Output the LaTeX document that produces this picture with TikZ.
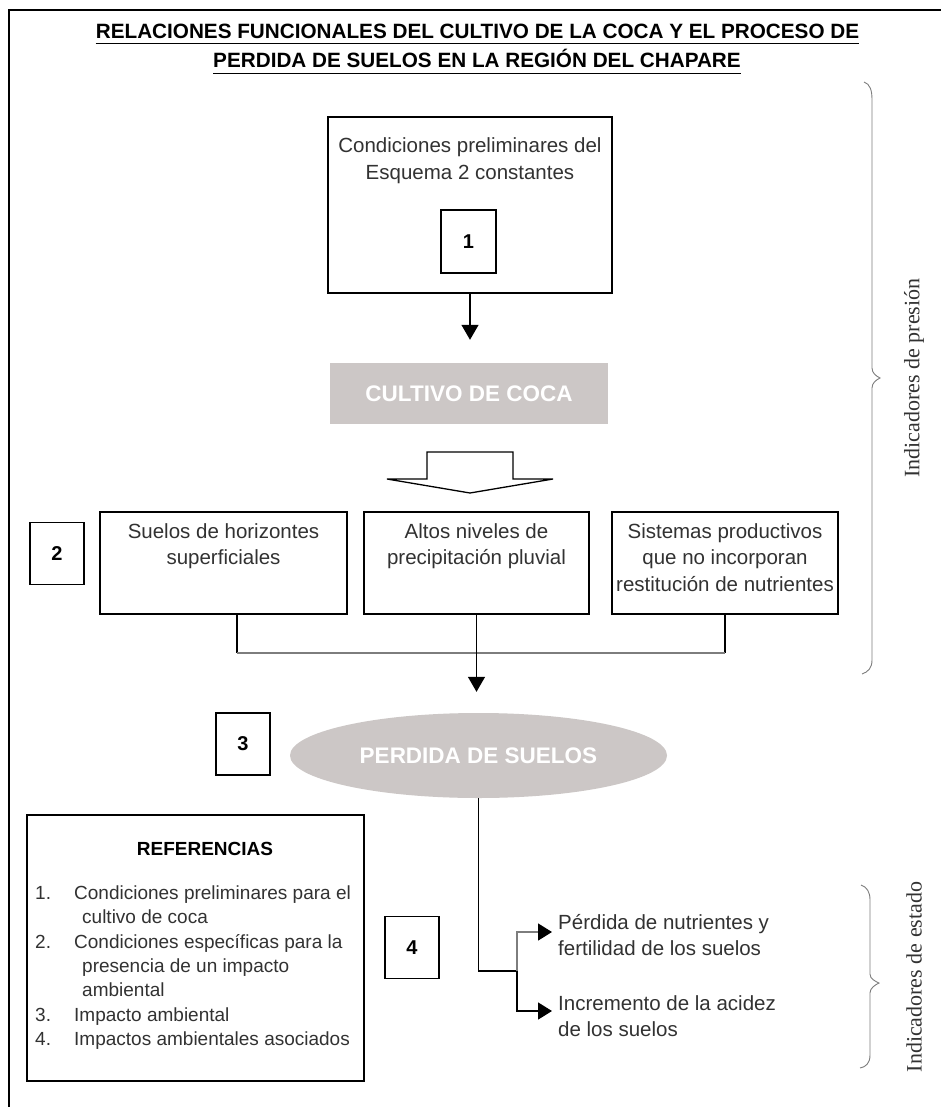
\documentclass[tikz,border=0pt]{standalone}
\usepackage{fontspec}
\setmainfont{Liberation Sans}
\newfontfamily\serifl{Liberation Serif}
\usetikzlibrary{shapes.geometric,arrows.meta}
\definecolor{fillgray}{RGB}{204,199,198}
\definecolor{txtgray}{RGB}{50,50,50}
\definecolor{linegray}{RGB}{125,125,125}
\begin{document}
\begin{tikzpicture}[x=1pt,y=-1pt,
 box/.style={draw=black,line width=1.6pt,fill=white,inner sep=0pt},
 numbox/.style={box,minimum width=54pt,minimum height=62pt,font=\bfseries\fontsize{20}{24}\selectfont},
 txt/.style={inner sep=0pt,text=txtgray,font=\fontsize{20.5}{26.5}\selectfont,align=center},
 reftxt/.style={inner sep=0pt,text=txtgray,font=\fontsize{19}{24.4}\selectfont},
 hdr/.style={inner sep=0pt,font=\bfseries\fontsize{20.7}{25}\selectfont,anchor=base},
 grayfill/.style={fill=fillgray,draw=none,text=white,font=\bfseries\fontsize{22.5}{26}\selectfont,inner sep=0pt},
 arr/.style={line width=1.3pt,-{Triangle[length=15pt,width=17pt]}},
 sarr/.style={line width=1.5pt,-{Triangle[length=14pt,width=17pt,color=black]},shorten >=6pt},
 conn/.style={line width=1.5pt},
 brace/.style={draw=linegray,line width=0.9pt},
 side/.style={inner sep=0pt,rotate=90,text=txtgray,font=\serifl\fontsize{22}{26}\selectfont}
]
\useasboundingbox (0,0) rectangle (941,1107);
\fill[white] (0,0) rectangle (941,1107);
\draw[line width=1.5pt] (941,10) -- (9,10) -- (9,1107);

% title
\node[hdr] (t1) at (477.5,39) {RELACIONES FUNCIONALES DEL CULTIVO DE LA COCA Y EL PROCESO DE};
\node[hdr] (t2) at (477,68) {PERDIDA DE SUELOS EN LA REGIÓN DEL CHAPARE};
\draw[line width=1.8pt] ([yshift=-4.5pt]t1.base west) -- ([yshift=-4.5pt]t1.base east);
\draw[line width=1.8pt] ([yshift=-5.5pt]t2.base west) -- ([yshift=-5.5pt]t2.base east);

% box 1
\node[box,minimum width=284pt,minimum height=176pt] (b1) at (470,205) {};
\node[txt,anchor=base] (b1t) at (470,179.5) {Condiciones preliminares del\\Esquema 2 constantes};
\node[numbox,minimum width=55pt,minimum height=63pt] (n1) at (468.5,241.5) {1};

% cultivo
\node[grayfill,minimum width=278pt,minimum height=61pt] (cultivo) at (469,393.5) {CULTIVO DE COCA};
\draw[arr,shorten >=23pt] (b1.south) -- (b1.south |- cultivo.north);

% hollow arrow
\draw[line width=1.3pt,fill=white] (427,452) -- (513,452) -- (513,479) -- (553,479) -- (470,493) -- (387,479) -- (427,479) -- cycle;

% three boxes
\node[box,minimum width=247pt,minimum height=102pt] (s1) at (223.5,563) {};
\node[box,minimum width=225pt,minimum height=102pt] (s2) at (476.5,563) {};
\node[box,minimum width=226pt,minimum height=102pt] (s3) at (725,563) {};
\node[txt,anchor=base] (s1t) at (223.5,564.5) {Suelos de horizontes\\superficiales};
\node[txt,anchor=base] (s2t) at (476.5,564.5) {Altos niveles de\\precipitación pluvial};
\node[txt,anchor=base] (s3t) at (725,591) {Sistemas productivos\\que no incorporan\\restitución de nutrientes};
\node[numbox] (n2) at (57,553.5) {2};

% connectors
\coordinate (j1) at (237,653);
\draw[conn] ([xshift=13.5pt]s1.south) -- ([xshift=13.5pt]s1.south |- j1);
\draw[conn] (s3.south) -- (s3.south |- j1);
\draw[line width=2.6pt,linegray] ([xshift=13.5pt]s1.south |- j1) -- (s3.south |- j1);

% ellipse
\node[ellipse,grayfill,minimum width=377pt,minimum height=85pt] (ell) at (478.5,755.5) {PERDIDA DE SUELOS};
\draw[arr,shorten >=21pt] (s2.south) -- (s2.south |- ell.north);
\node[numbox] (n3) at (243,744) {3};

% bottom branches
\node[txt,align=left,anchor=base west] (r1) at (558,955.5) {Pérdida de nutrientes y\\fertilidad de los suelos};
\node[txt,align=left,anchor=base west] (r2) at (558,1036.5) {Incremento de la acidez\\de los suelos};
\coordinate (bj) at (517,971);
\draw[conn] (ell.south) |- (bj);
\draw[sarr,linegray] (bj) |- ([yshift=23.5pt]r1.base west);
\draw[sarr] (bj) |- ([yshift=25.5pt]r2.base west);
\node[numbox] (n4) at (412,947.5) {4};

% referencias
\node[box,minimum width=337pt,minimum height=266pt] (refbox) at (195.5,948) {};
\node[inner sep=0pt,anchor=base,font=\bfseries\fontsize{19}{22}\selectfont] (reft) at (205,855) {REFERENCIAS};
\node[reftxt,anchor=north west] (refs) at (35,882) {\begin{tabular}{@{}p{39pt}@{}l@{}}1. & Condiciones preliminares para el\\ & \hspace*{8pt}cultivo de coca\\ 2. & Condiciones específicas para la\\ & \hspace*{8pt}presencia de un impacto\\ & \hspace*{8pt}ambiental\\ 3. & Impacto ambiental\\ 4. & Impactos ambientales asociados\end{tabular}};

% braces
\draw[brace] (864,82) .. controls (870,84) and (872,90) .. (872,100) -- (872,368) .. controls (872,373) and (876,376) .. (880,378) .. controls (876,380) and (872,383) .. (872,388) -- (872,660) .. controls (872,668) and (868,672) .. (862,674);
\node[side] (lab1) at (914,378) {Indicadores de presión};
\draw[brace] (861,885) .. controls (867,887) and (870,892) .. (870,900) -- (870,974) .. controls (870,979) and (875,981) .. (879,983) .. controls (875,985) and (870,988) .. (870,993) -- (870,1055) .. controls (870,1063) and (866,1067) .. (860,1068);
\node[side] (lab2) at (914,977) {Indicadores de estado};
\end{tikzpicture}
\end{document}
